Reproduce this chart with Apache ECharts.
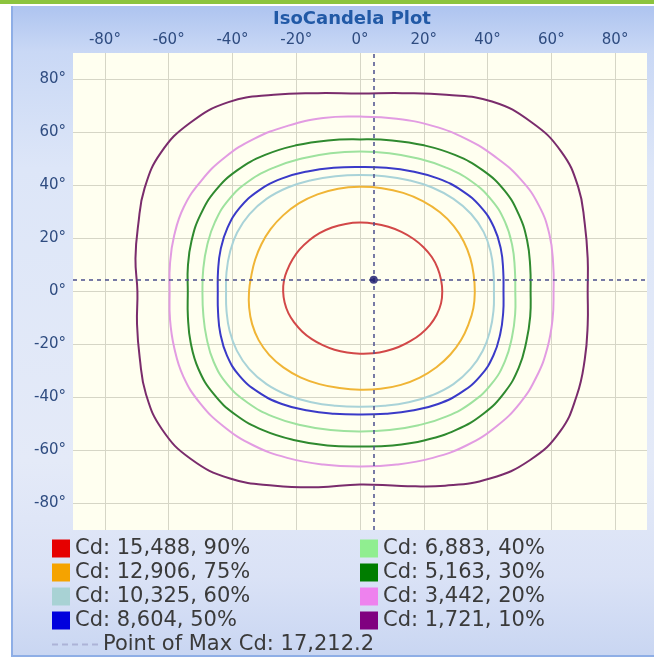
<!DOCTYPE html>
<html><head><meta charset="utf-8">
<script src="https://cdn.jsdelivr.net/npm/echarts/dist/echarts.min.js"></script>
<style>
html,body{margin:0;padding:0;width:654px;height:657px;overflow:hidden;background:#fff;}
#green{position:absolute;left:0;top:0;width:654px;height:4px;background:#8cc43e;}
#box{position:absolute;left:11px;top:6px;width:641px;height:649px;border-left:2px solid #8eaee6;border-bottom:2px solid #8eaee6;
background:linear-gradient(to bottom,#aec4f0 0%,#c9d8f5 7%,#dde6f8 25%,#e4eaf8 70%,#dae2f6 88%,#c9d6f2 100%);}
#chart{position:absolute;left:0;top:0;width:654px;height:657px;}
</style></head>
<body>
<div id="green"></div><div id="box"></div>
<div id="chart"></div>
<script>
// ---- data ----
const xTicks = [-80,-60,-40,-20,0,20,40,60,80];
const yTicks = [-80,-60,-40,-20,0,20,40,60,80];
// contour radius (degrees) read at every 10 degrees of direction, starting at +x, counter-clockwise
const anglesDeg = [0,10,20,30,40,50,60,70,80,90,100,110,120,130,140,150,160,170,180,190,200,210,220,230,240,250,260,270,280,290,300,310,320,330,340,350];
const contourNames = ['Cd: 15,488, 90%','Cd: 12,906, 75%','Cd: 10,325, 60%','Cd: 8,604, 50%','Cd: 6,883, 40%','Cd: 5,163, 30%','Cd: 3,442, 20%','Cd: 1,721, 10%'];
const r90 = [25.8,25.8,25.9,26,26,26,26,26,26,26, 25.9,25.7,25.4,25,24.7,24.4,24.2,24.2, 24.1,24,23.9,23.7,23.6,23.5,23.4,23.4,23.4, 23.5,23.7,23.9,24.2,24.5,24.9,25.3,25.6,25.8].slice(0,36);
const r75 = [36,36.2,36.8,37.6,38.4,39,39.4,39.6,39.6,39.5, 39.4,39,38.4,37.5,36.6,35.7,35,34.6, 34.8,35.3,36,36.7,37.2,37.4,37.4,37.2,37, 37.1,37.3,37.5,37.5,37.3,37,36.6,36.2,36.1].slice(0,36);
const r60 = [42,42.5,43.6,44.8,45.5,45.6,45.3,44.7,44.2,44, 44.2,44.7,45.3,45.6,45.3,44.5,43.4,42.5,42, 42.5,43.5,44.6,45.4,45.6,45.2,44.5,43.8,43.5, 43.8,44.5,45.2,45.6,45.3,44.5,43.4,42.5];
const r50 = [45,45.6,47,48.5,49.5,49.7,49.2,48.2,47.4,47, 47.4,48.2,49.2,49.6,49.2,48,46.5,45.2,44.6, 45.2,46.6,48.2,49.4,49.6,49,47.8,46.8,46.4, 46.8,47.8,49,49.6,49.4,48.3,46.8,45.6];
const r40 = [48.7,49.3,50.8,52.5,53.8,54.3,54,53.4,53,52.8, 53,53.4,54,54.3,53.8,52.5,51,49.9,49.4, 49.9,51.2,53,54.4,54.8,54.5,53.7,53.1,52.8, 53.1,53.7,54.4,54.6,54,52.5,50.7,49.4];
const r30 = [53.5,54.2,55.8,57.6,59.2,59.8,59.5,58.7,57.9,57.4, 57.9,58.7,59.5,59.8,59.2,57.8,56.2,54.8,54, 54.8,56.5,58.5,60,60.7,60.5,59.7,59,58.5, 59,59.7,60.3,60.2,59.2,57.5,55.5,54.2];
const r20 = [60.7,61.5,63.2,64.8,65.8,66.2,66.5,66.5,66.2,66, 66.5,66.5,66.5,66,65,63.8,62,60.5,59.7, 60.5,62,64,65.5,66.5,67,66.8,66.3,66, 66.3,66.8,67,66.5,65.5,64,62.5,61.3];
const r10 = [71.4,72.5,75,79,82.3,83.5,82.8,79,76,74.7, 76,79,82.5,83,81.5,78,74,71.5,69.8, 71,73.5,77.5,81,82.5,81.5,78,75,72.8, 74.5,78,81.5,83,82,78.5,75,72.5];
const maxPoint = [4.3, 4.4];
const maxName = 'Point of Max Cd: 17,212.2';

// ---- styles ----
const radii = [r90,r75,r60,r50,r40,r30,r20,r10];
const legendColors = ['#e60000','#f5a300','#a8d2d4','#0000dd','#90ee90','#007d00','#ee82ee','#800080'];
const lineColors = ['#d24848','#f0b536','#a9d3d8','#3a3ac8','#9ee29e','#2f8a2f','#e29ce2','#7a2c6c'];

function toXY(r){
  return r.map((v,i)=>{const a=anglesDeg[i]*Math.PI/180;return [v*Math.cos(a), v*Math.sin(a)];});
}
const series = radii.map((r,i)=>{
  const pts = toXY(r);
  return {
    name: contourNames[i], type:'custom', coordinateSystem:'cartesian2d', data:[[0,0]], silent:true, z:3,
    itemStyle:{color:legendColors[i]},
    renderItem:(params, api)=>({type:'polygon', shape:{points:pts.map(p=>api.coord(p)), smooth:0.45},
      style:{fill:'none', stroke:lineColors[i], lineWidth:2}})
  };
});
series.push({
  name: maxName, type:'scatter', data:[maxPoint], symbolSize:8, itemStyle:{color:'#14146a'}, z:5,
  markLine:{symbol:'none', silent:true, label:{show:false}, animation:false,
    lineStyle:{type:[4,4], color:'#4b4f8c', width:1.5},
    data:[{xAxis:maxPoint[0]},{yAxis:maxPoint[1]}]}
});

const gridColors = ['rgba(0,0,0,0)','#d6d6c6'];
const labelStyle = {color:'#2f4c80', fontSize:15, fontFamily:'DejaVu Sans'};
const legendText = {color:'#3a3a3a', fontSize:21, fontFamily:'DejaVu Sans'};
function mkLegend(names, left){
  return {orient:'vertical', left:left, top:533, itemWidth:18, itemHeight:18, itemGap:3, selectedMode:false,
    textStyle:legendText, icon:'rect',
    data:names.map(n=>({name:n, itemStyle:{color:legendColors[contourNames.indexOf(n)], borderWidth:0}}))};
}

const chart = echarts.init(document.getElementById('chart'), null, {renderer:'canvas'});
chart.setOption({
  animation:false,
  backgroundColor:'transparent',
  graphic:[{type:'text', x:352, y:19, style:{text:'IsoCandela Plot', font:'bold 18px "DejaVu Sans"', fill:'#2159a6', align:'center', verticalAlign:'middle'}}],
  grid:{left:73, right:7, top:53, bottom:127, show:true, backgroundColor:'#fffff0', borderWidth:0},
  xAxis:{type:'value', position:'top', min:-90, max:90, interval:10,
    axisLine:{show:false}, axisTick:{show:false},
    axisLabel:{...labelStyle, margin:5, formatter:v=>xTicks.includes(v)?v+'°':''},
    splitLine:{show:true, showMinLine:true, showMaxLine:true, lineStyle:{color:gridColors, width:1}}},
  yAxis:{type:'value', min:-90, max:90, interval:10,
    axisLine:{show:false}, axisTick:{show:false},
    axisLabel:{...labelStyle, margin:7, formatter:v=>yTicks.includes(v)?v+'°':''},
    splitLine:{show:true, showMinLine:true, showMaxLine:true, lineStyle:{color:gridColors, width:1}}},
  legend:[
    mkLegend(contourNames.slice(0,4), 47),
    mkLegend(contourNames.slice(4,8), 355),
    {orient:'horizontal', left:47, top:629, itemWidth:46, itemHeight:2, selectedMode:false, textStyle:legendText,
      data:[{name:maxName, icon:'path://M0 0h6v2H0zM10 0h6v2h-6zM20 0h6v2h-6zM30 0h6v2h-6zM40 0h6v2h-6z', itemStyle:{color:'#a4aad0'}}]}
  ],
  series: series
});
</script>
</body></html>
